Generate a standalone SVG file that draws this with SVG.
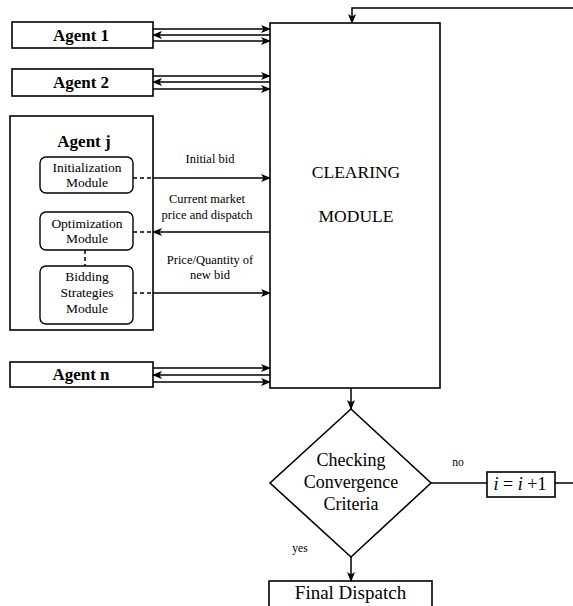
<svg xmlns="http://www.w3.org/2000/svg" width="573" height="606" viewBox="0 0 573 606" font-family="'Liberation Serif', 'Times New Roman', 'DejaVu Serif', serif">
<style>
.box{fill:#fff;stroke:#000;stroke-width:1.6}
.rbox{fill:#fff;stroke:#000;stroke-width:1.4}
.ln{fill:none;stroke:#000;stroke-width:1.5}
.dash{fill:none;stroke:#000;stroke-width:1.5;stroke-dasharray:4,3}
text{fill:#000;text-anchor:middle}
.ag{font-size:17px;font-weight:bold}
.big{font-size:17.5px}
.mod{font-size:13.5px}
.lbl{font-size:12.5px}
.sm{font-size:11.5px}
.dia{font-size:18px}
</style>
<defs>
<marker id="ah" markerWidth="10" markerHeight="8" refX="9" refY="4" orient="auto" markerUnits="userSpaceOnUse">
<path d="M0,0 L10,4 L0,8 L2.5,4 Z" fill="#000"/>
</marker>
</defs>
<g id="clearing">
<rect class="box" x="270" y="23" width="170" height="365"/>
<text class="big" x="356" y="178">CLEARING</text>
<text class="big" x="356" y="222">MODULE</text>
</g>
<g id="agent1">
<rect class="box" x="12" y="22" width="141" height="26"/>
<text class="ag" x="81" y="41">Agent 1</text>
</g>
<g id="agent2">
<rect class="box" x="12" y="69" width="141" height="27"/>
<text class="ag" x="81" y="88">Agent 2</text>
</g>
<g id="agentj">
<rect class="box" x="10" y="116" width="143" height="214"/>
<text class="ag" x="84" y="147">Agent j</text>
</g>
<g id="init">
<rect class="rbox" x="40" y="157" width="93" height="36" rx="6"/>
<text class="mod" x="87" y="172">Initialization</text>
<text class="mod" x="87" y="187">Module</text>
</g>
<g id="opt">
<rect class="rbox" x="40" y="212" width="93" height="38" rx="6"/>
<text class="mod" x="87" y="228">Optimization</text>
<text class="mod" x="87" y="243">Module</text>
</g>
<g id="bid">
<rect class="rbox" x="40" y="266" width="93" height="58" rx="6"/>
<text class="mod" x="87" y="281">Bidding</text>
<text class="mod" x="87" y="297">Strategies</text>
<text class="mod" x="87" y="313">Module</text>
</g>
<g id="agentn">
<rect class="box" x="10" y="362" width="143" height="25"/>
<text class="ag" x="81" y="380">Agent n</text>
</g>
<g id="decision">
<polygon class="box" points="351,409 431,483 351,557 270,483"/>
<text class="dia" x="351" y="466">Checking</text>
<text class="dia" x="351" y="488">Convergence</text>
<text class="dia" x="351" y="510">Criteria</text>
</g>
<g id="incr">
<rect class="box" x="487" y="472" width="68" height="25"/>
<text class="dia" x="520" y="490"><tspan font-style="italic">i</tspan> = <tspan font-style="italic">i</tspan> +1</text>
</g>
<g id="final">
<rect class="box" x="269" y="581" width="163" height="27"/>
<text class="dia" x="350.5" y="599" style="font-size:19px">Final Dispatch</text>
</g>
<g id="connectors">
<line class="ln" x1="153" y1="29" x2="270" y2="29" marker-end="url(#ah)"/>
<line class="ln" x1="270" y1="35" x2="153" y2="35" marker-end="url(#ah)"/>
<line class="ln" x1="153" y1="41" x2="270" y2="41" marker-end="url(#ah)"/>
<line class="ln" x1="153" y1="76" x2="270" y2="76" marker-end="url(#ah)"/>
<line class="ln" x1="270" y1="82" x2="153" y2="82" marker-end="url(#ah)"/>
<line class="ln" x1="153" y1="89" x2="270" y2="89" marker-end="url(#ah)"/>
<line class="ln" x1="153" y1="368" x2="270" y2="368" marker-end="url(#ah)"/>
<line class="ln" x1="270" y1="375" x2="153" y2="375" marker-end="url(#ah)"/>
<line class="ln" x1="153" y1="382" x2="270" y2="382" marker-end="url(#ah)"/>
<line class="dash" x1="133" y1="178" x2="153" y2="178"/>
<line class="ln" x1="153" y1="178" x2="270" y2="178" marker-end="url(#ah)"/>
<line class="dash" x1="133" y1="232" x2="153" y2="232"/>
<line class="ln" x1="270" y1="232" x2="153" y2="232" marker-end="url(#ah)"/>
<line class="dash" x1="133" y1="293" x2="153" y2="293"/>
<line class="ln" x1="153" y1="293" x2="270" y2="293" marker-end="url(#ah)"/>
<line class="dash" x1="85" y1="250" x2="85" y2="266"/>
<line class="ln" x1="351" y1="388" x2="351" y2="409" marker-end="url(#ah)"/>
<line class="ln" x1="351" y1="557" x2="351" y2="581" marker-end="url(#ah)"/>
<line class="ln" x1="431" y1="483" x2="487" y2="483"/>
<path class="ln" d="M555,483 H576 V8 H352 V23" marker-end="url(#ah)"/>
<text class="lbl" x="210" y="163">Initial bid</text>
<text class="lbl" x="207" y="203">Current market</text>
<text class="lbl" x="207" y="219">price and dispatch</text>
<text class="lbl" x="210" y="264">Price/Quantity of</text>
<text class="lbl" x="210" y="279">new bid</text>
<text class="sm" x="458" y="466">no</text>
<text class="sm" x="300" y="552">yes</text>
</g>
</svg>
